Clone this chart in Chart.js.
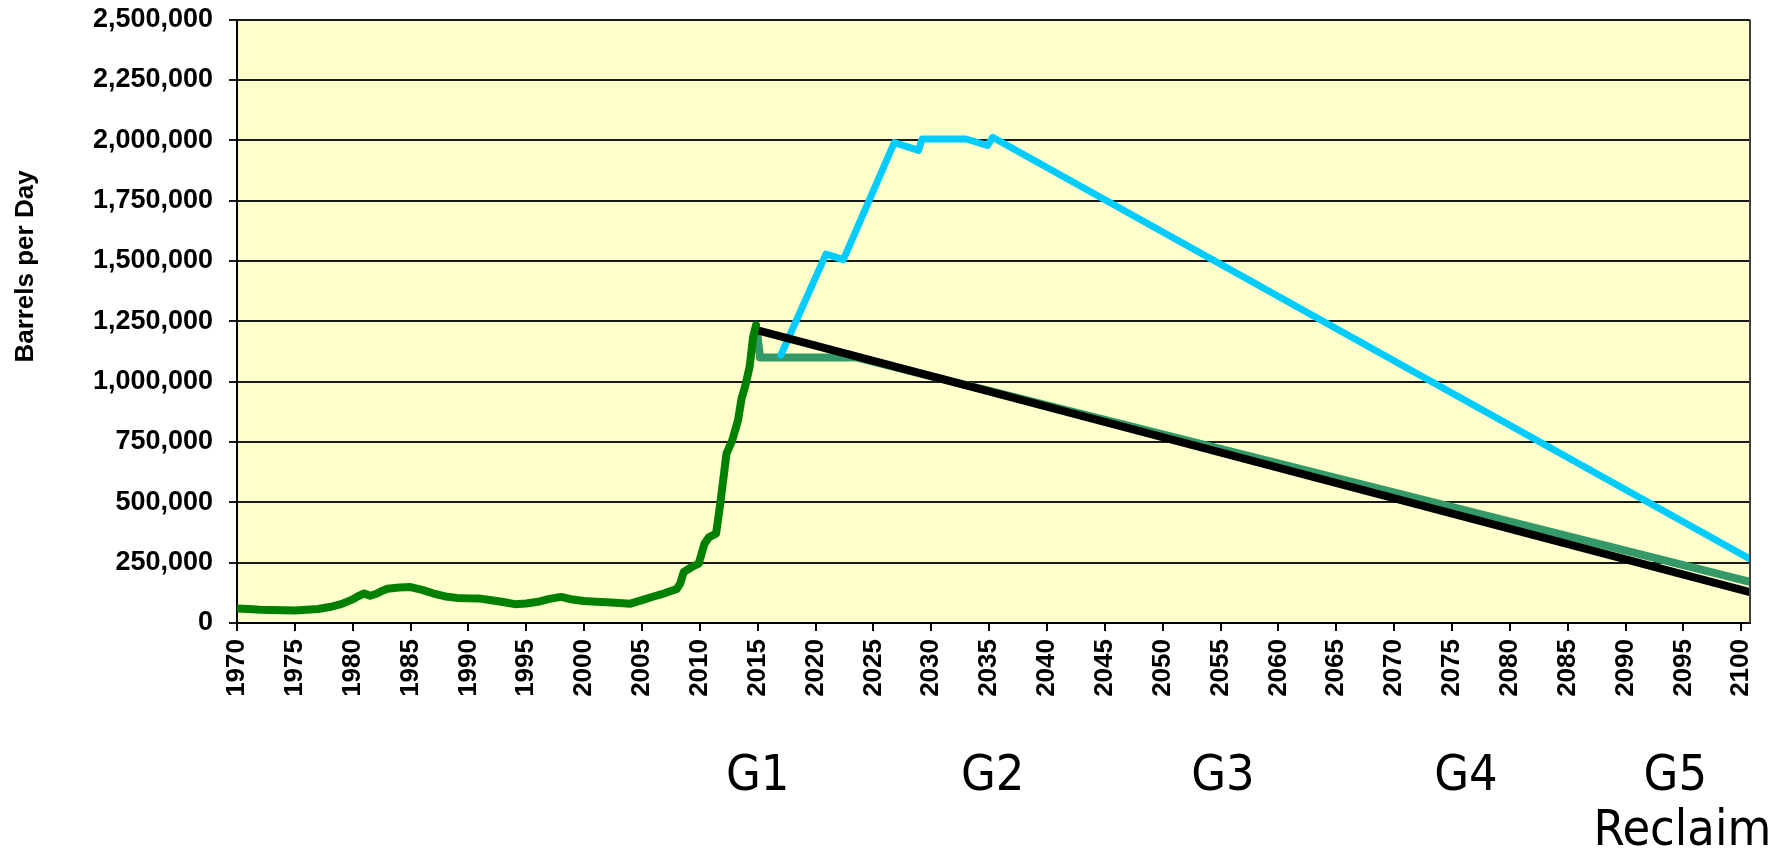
<!DOCTYPE html>
<html>
<head>
<meta charset="utf-8">
<title>Barrels per Day</title>
<script src="https://cdn.jsdelivr.net/npm/chart.js@4.4.0/dist/chart.umd.min.js"></script>
<style>
  html, body { margin: 0; padding: 0; background: #ffffff; }
  #wrap { width: 1777px; height: 851px; position: relative; }
</style>
</head>
<body>
<div id="wrap"><canvas id="grafico"></canvas></div>
<script>
// produccion historica (verde), años y barriles por dia
const histYears = [1970, 1971, 1972, 1973, 1974, 1975, 1976, 1977, 1978, 1979,
  1980, 1980.5, 1981, 1981.5, 1982, 1982.5, 1983, 1984, 1985, 1986,
  1987, 1988, 1989, 1990, 1991, 1992, 1993, 1994, 1995, 1996,
  1997, 1998, 1999, 2000, 2001, 2002, 2003, 2004, 2005, 2006,
  2007, 2008, 2008.3, 2008.6, 2009.3, 2009.9, 2010.4, 2010.8, 2011.4, 2011.8,
  2012.3, 2012.8, 2013.3, 2013.6, 2013.9, 2014.3, 2014.6, 2014.85]
const histValues = [60000, 58000, 55000, 54000, 53000, 52000, 55000, 58000, 66000, 78000,
  98000, 112000, 122000, 113000, 120000, 132000, 142000, 147000, 149000, 137000,
  122000, 110000, 104000, 102000, 101000, 94000, 87000, 78000, 81000, 88000,
  100000, 108000, 97000, 91000, 88000, 86000, 83000, 80000, 95000, 110000,
  124000, 141000, 163000, 211000, 232000, 246000, 329000, 356000, 370000, 508000,
  702000, 757000, 840000, 929000, 978000, 1061000, 1185000, 1233000]

// escenario plano (verde mar)
const flatYears = [2014.95, 2015.2, 2023.5, 2100.75]
const flatValues = [1200000, 1100000, 1100000, 170000]

// escenario alto (celeste)
const highYears = [2017.0, 2020.9, 2022.4, 2026.8, 2028.9, 2029.2, 2033.0, 2034.85, 2035.3, 2100.75]
const highValues = [1110000, 1528000, 1505000, 1990000, 1958000, 2005000, 2005000, 1978000, 2012000, 265000]

// declinacion (negro)
const declineYears = [2015.0, 2100.75]
const declineValues = [1212000, 128000]

// ejes y etiquetas
const xTickYears = []
for (let y = 1970; y <= 2100; y += 5) xTickYears.push(y)
const yTickValues = [0, 250000, 500000, 750000, 1000000, 1250000, 1500000, 1750000, 2000000, 2250000, 2500000]
const yTitle = 'Barrels per Day'
const gLabels = ['G1', 'G2', 'G3', 'G4', 'G5']
const gYears = [2015, 2035.3, 2055.2, 2076.2, 2094.3]
const reclaimLabel = 'Reclaim'
const reclaimYear = 2094.9

const puntos = (xs, ys) => xs.map((x, i) => ({ x: x, y: ys[i] }))

const fondoYMarcos = {
  id: 'fondoYMarcos',
  beforeDraw(chart) {
    const { ctx, chartArea: a } = chart
    ctx.save()
    ctx.fillStyle = '#FFFFCC'
    ctx.fillRect(a.left, a.top, a.right - a.left, a.bottom - a.top)
    ctx.restore()
  },
  afterDraw(chart) {
    const { ctx, chartArea: a, scales } = chart
    ctx.save()
    // borde derecho del area
    ctx.strokeStyle = '#404040'
    ctx.lineWidth = 2
    ctx.beginPath()
    ctx.moveTo(a.right, a.top)
    ctx.lineTo(a.right, a.bottom)
    ctx.stroke()

    // titulo del eje y
    ctx.fillStyle = '#000'
    ctx.font = 'bold 26px "Liberation Sans", Arial, sans-serif'
    ctx.translate(33, a.top + 247)
    ctx.rotate(-Math.PI / 2)
    ctx.textAlign = 'center'
    ctx.textBaseline = 'alphabetic'
    ctx.fillText(yTitle, 0, 0)
    ctx.restore()

    // etiquetas G1..G5
    ctx.save()
    ctx.fillStyle = '#000'
    ctx.font = '50px "Liberation Sans Narrow", "DejaVu Sans Condensed", sans-serif'
    ctx.textAlign = 'center'
    ctx.textBaseline = 'alphabetic'
    gLabels.forEach((t, i) => {
      ctx.fillText(t, scales.x.getPixelForValue(gYears[i]), 790)
    })
    ctx.fillText(reclaimLabel, scales.x.getPixelForValue(reclaimYear), 845)
    ctx.restore()
  }
}

const serie = (datos, color, ancho) => ({
  data: datos,
  borderColor: color,
  backgroundColor: color,
  borderWidth: ancho,
  pointRadius: 0,
  borderJoinStyle: 'round',
  borderCapStyle: 'round',
  tension: 0,
  fill: false
})

const config = {
  type: 'line',
  data: {
    datasets: [
      serie(puntos(histYears, histValues), '#008000', 8),
      serie(puntos(declineYears, declineValues), '#000000', 8),
      serie(puntos(highYears, highValues), '#00CCFF', 7),
      serie(puntos(flatYears, flatValues), '#339966', 8)
    ]
  },
  options: {
    responsive: true,
    maintainAspectRatio: false,
    animation: false,
    layout: { padding: { top: 19.5, right: 27, left: 0, bottom: 0 } },
    plugins: { legend: { display: false }, tooltip: { enabled: false } },
    scales: {
      x: {
        type: 'linear',
        min: 1970,
        max: 2100.75,
        afterBuildTicks: (scale) => { scale.ticks = xTickYears.map(v => ({ value: v })) },
        afterFit: (scale) => {
          scale.height = 228
          scale.paddingLeft = 0
          scale.paddingRight = 0
        },
        grid: { drawOnChartArea: false, drawTicks: true, tickLength: 8, color: '#000', lineWidth: 2 },
        border: { display: true, color: '#000', width: 2 },
        ticks: {
          autoSkip: false,
          maxRotation: 90,
          minRotation: 90,
          padding: 8,
          color: '#000',
          font: { family: '"Liberation Sans", Arial, sans-serif', size: 26, weight: 'bold' },
          callback: (v) => String(v)
        }
      },
      y: {
        min: 0,
        max: 2500000,
        afterBuildTicks: (scale) => { scale.ticks = yTickValues.map(v => ({ value: v })) },
        afterFit: (scale) => {
          scale.width = 237
          scale.paddingTop = 0
          scale.paddingBottom = 0
        },
        grid: { drawTicks: true, tickLength: 8, color: '#1a1a1a', lineWidth: 2 },
        border: { display: true, color: '#000', width: 2 },
        ticks: {
          padding: 16,
          color: '#000',
          font: { family: '"Liberation Sans", Arial, sans-serif', size: 27, weight: 'bold' },
          callback: (v) => v.toLocaleString('en-US')
        }
      }
    }
  },
  plugins: [fondoYMarcos]
}

const grafico = new Chart(document.getElementById('grafico'), config)
</script>
</body>
</html>
